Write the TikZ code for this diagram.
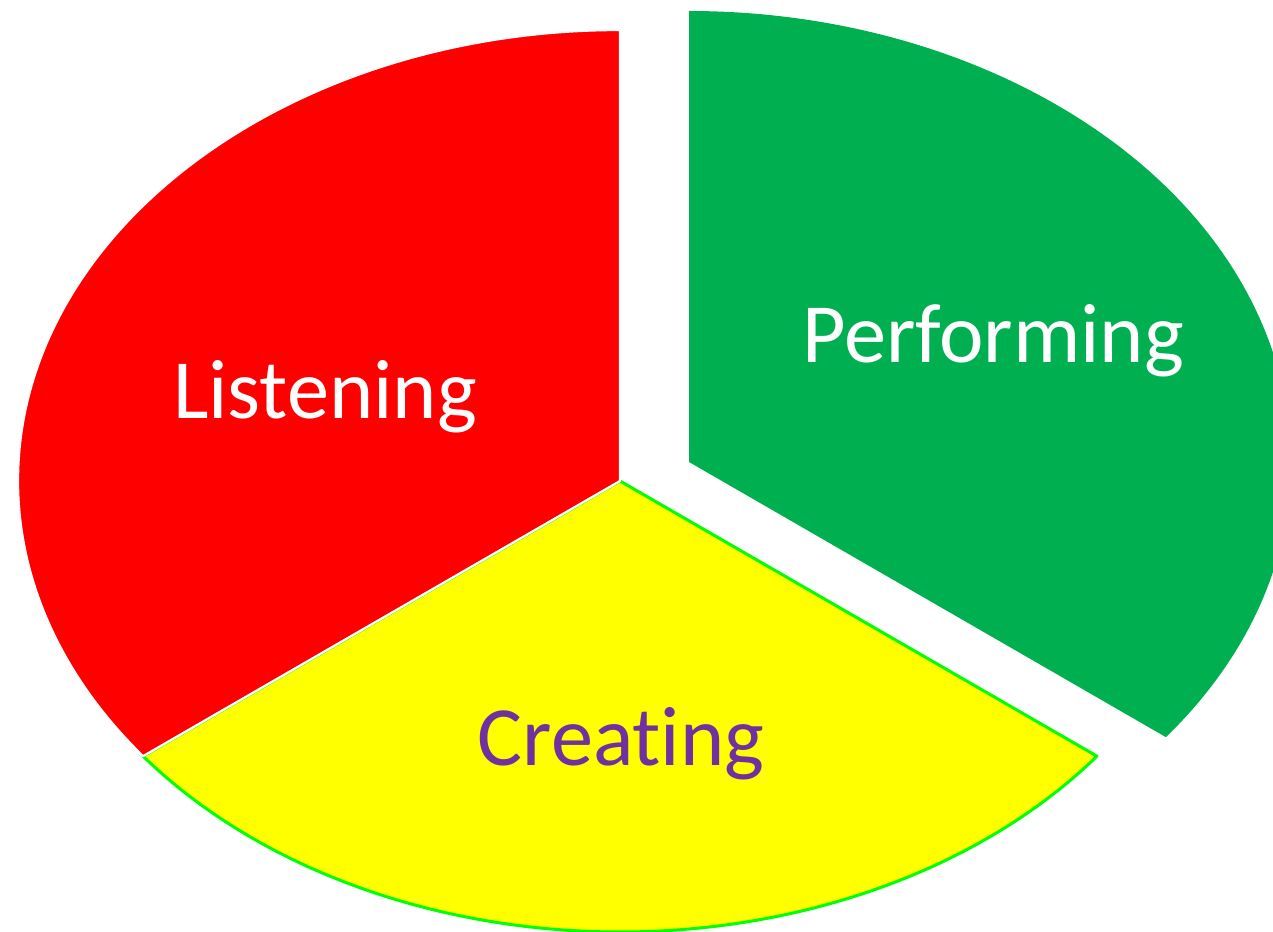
\documentclass[tikz,border=0pt]{standalone}
\usepackage{fontspec}
\setmainfont{Carlito}[Ligatures={NoCommon}]
\definecolor{listenred}{HTML}{FF0000}
\definecolor{createyellow}{HTML}{FFFF00}
\definecolor{performgreen}{HTML}{00B050}
\definecolor{rimgreen}{HTML}{00FF00}
\definecolor{createpurple}{HTML}{7030A0}
\begin{document}
\begin{tikzpicture}[x=0.02cm,y=0.02cm,line join=round,
  label/.style={font=\fontsize{48}{58}\selectfont,anchor=base}]
\def\rx{602}\def\ry{451}
\useasboundingbox (0,0) rectangle (1273,931);
\clip (0,0) rectangle (1273,931);
\path
(620,450) coordinate (O)
(689,469) coordinate (G)
;
\filldraw[fill=createyellow,draw=rimgreen,line width=1.7pt] (O)--+(217.6:{\rx} and {\ry}) arc[start angle=217.6,end angle=322.4,x radius=\rx,y radius=\ry]--cycle;
\filldraw[fill=listenred,draw=white,line width=1.3pt] (O)--+(90:{\rx} and {\ry}) arc[start angle=90,end angle=217.6,x radius=\rx,y radius=\ry]--cycle;
\fill[performgreen] (G)--+(-37.6:{\rx} and {\ry}) arc[start angle=-37.6,end angle=90,x radius=\rx,y radius=\ry]--cycle;
\node[label,text=white] (listening) at (325,513) {Listening};
\node[label,text=white] (performing) at (993,569) {Performing};
\node[label,text=createpurple] (creating) at (621,166) {Creating};
\end{tikzpicture}
\end{document}
